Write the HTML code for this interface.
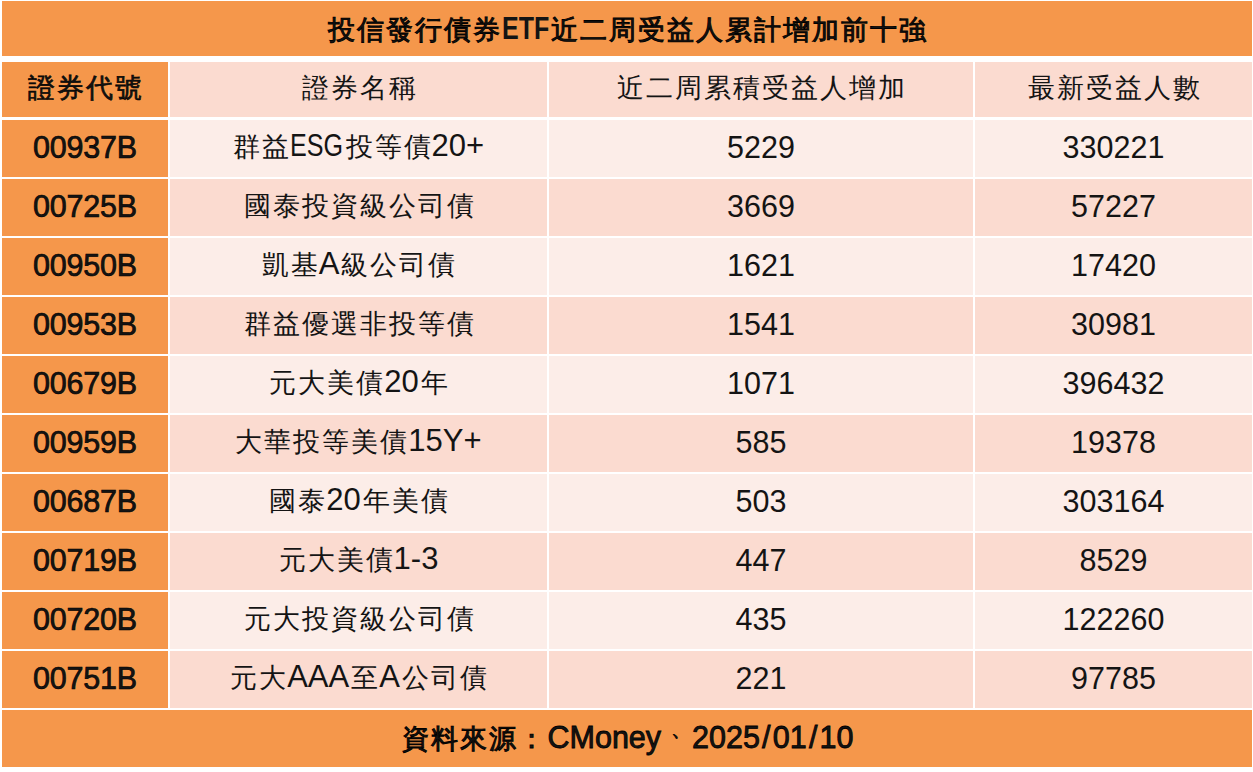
<!DOCTYPE html>
<html><head><meta charset="utf-8"><style>
html,body{margin:0;padding:0;background:#fff;width:1253px;height:772px;overflow:hidden;position:relative}
.c{position:absolute;overflow:hidden}
.t{position:absolute;left:0;right:0;text-align:center;font-family:"Liberation Sans",sans-serif;font-size:26.5px;letter-spacing:2px;text-indent:2px;color:#141414;white-space:nowrap}
.b{font-weight:normal;-webkit-text-stroke:0.6px #000}
.ti{font-size:26.5px;letter-spacing:2px;text-indent:2px;-webkit-text-stroke:0.9px #000}
.ft{-webkit-text-stroke:0.9px #000}
.LF{font-size:30.5px;letter-spacing:0;line-height:0;-webkit-text-stroke:0.8px #000}
.id{font-size:30.5px;font-weight:normal;-webkit-text-stroke:0.65px #000;letter-spacing:-0.2px;text-indent:0;transform:scaleY(1.03)}
.num{font-size:30.5px;letter-spacing:0;text-indent:0}
.L{font-size:31px;letter-spacing:0;margin:0 2px 0 -1px;line-height:0}
.LB{font-size:30.5px;letter-spacing:0;line-height:0;font-weight:bold;-webkit-text-stroke:0}
.sx{display:inline-block;transform-origin:50% 50%}
.sl{margin:0 2.2px}
.dn{display:inline-block;transform:translate(5px,-10px) scale(0.8)}
</style></head><body>
<div class="c" style="left:2px;top:1px;width:1250px;height:55px;background:#F5974B"><div class="t b ti" style="top:2px;line-height:55px">投信發行債券<span class="LB sx" id="sx0" style="transform:scaleX(0.82);margin:0 -3.36px 0 -7.36px">ETF</span>近二周受益人累計增加前十強</div></div>
<div class="c" style="left:2px;top:62px;width:166px;height:55px;background:#F5974B"><div class="t b" style="top:-1px;line-height:55px">證券代號</div></div>
<div class="c" style="left:170px;top:62px;width:377px;height:55px;background:#FBDBD0"><div class="t " style="top:-1px;line-height:55px">證券名稱</div></div>
<div class="c" style="left:549px;top:62px;width:424px;height:55px;background:#FBDBD0"><div class="t " style="top:-1px;line-height:55px">近二周累積受益人增加</div></div>
<div class="c" style="left:975px;top:62px;width:277px;height:55px;background:#FBDBD0"><div class="t " style="top:-1px;line-height:55px">最新受益人數</div></div>
<div class="c" style="left:2px;top:120px;width:166px;height:57px;background:#F5974B"><div class="t b id" style="top:-1px;line-height:57px">00937B</div></div>
<div class="c" style="left:170px;top:120px;width:377px;height:57px;background:#FCEDE8"><div class="t " style="top:-1px;line-height:57px">群益<span class="L sx" id="sx1" style="transform:scaleX(0.81);margin:0 -4.41px 0 -8.41px">ESG</span>投等債<span class="L">20+</span></div></div>
<div class="c" style="left:549px;top:120px;width:424px;height:57px;background:#FCEDE8"><div class="t num" style="top:-1px;line-height:57px">5229</div></div>
<div class="c" style="left:975px;top:120px;width:277px;height:57px;background:#FCEDE8"><div class="t num" style="top:-1px;line-height:57px">330221</div></div>
<div class="c" style="left:2px;top:179px;width:166px;height:57px;background:#F5974B"><div class="t b id" style="top:-1px;line-height:57px">00725B</div></div>
<div class="c" style="left:170px;top:179px;width:377px;height:57px;background:#FBDBD0"><div class="t " style="top:-1px;line-height:57px">國泰投資級公司債</div></div>
<div class="c" style="left:549px;top:179px;width:424px;height:57px;background:#FBDBD0"><div class="t num" style="top:-1px;line-height:57px">3669</div></div>
<div class="c" style="left:975px;top:179px;width:277px;height:57px;background:#FBDBD0"><div class="t num" style="top:-1px;line-height:57px">57227</div></div>
<div class="c" style="left:2px;top:238px;width:166px;height:57px;background:#F5974B"><div class="t b id" style="top:-1px;line-height:57px">00950B</div></div>
<div class="c" style="left:170px;top:238px;width:377px;height:57px;background:#FCEDE8"><div class="t " style="top:-1px;line-height:57px">凱基<span class="L">A</span>級公司債</div></div>
<div class="c" style="left:549px;top:238px;width:424px;height:57px;background:#FCEDE8"><div class="t num" style="top:-1px;line-height:57px">1621</div></div>
<div class="c" style="left:975px;top:238px;width:277px;height:57px;background:#FCEDE8"><div class="t num" style="top:-1px;line-height:57px">17420</div></div>
<div class="c" style="left:2px;top:297px;width:166px;height:57px;background:#F5974B"><div class="t b id" style="top:-1px;line-height:57px">00953B</div></div>
<div class="c" style="left:170px;top:297px;width:377px;height:57px;background:#FBDBD0"><div class="t " style="top:-1px;line-height:57px">群益優選非投等債</div></div>
<div class="c" style="left:549px;top:297px;width:424px;height:57px;background:#FBDBD0"><div class="t num" style="top:-1px;line-height:57px">1541</div></div>
<div class="c" style="left:975px;top:297px;width:277px;height:57px;background:#FBDBD0"><div class="t num" style="top:-1px;line-height:57px">30981</div></div>
<div class="c" style="left:2px;top:356px;width:166px;height:57px;background:#F5974B"><div class="t b id" style="top:-1px;line-height:57px">00679B</div></div>
<div class="c" style="left:170px;top:356px;width:377px;height:57px;background:#FCEDE8"><div class="t " style="top:-1px;line-height:57px">元大美債<span class="L">20</span>年</div></div>
<div class="c" style="left:549px;top:356px;width:424px;height:57px;background:#FCEDE8"><div class="t num" style="top:-1px;line-height:57px">1071</div></div>
<div class="c" style="left:975px;top:356px;width:277px;height:57px;background:#FCEDE8"><div class="t num" style="top:-1px;line-height:57px">396432</div></div>
<div class="c" style="left:2px;top:415px;width:166px;height:57px;background:#F5974B"><div class="t b id" style="top:-1px;line-height:57px">00959B</div></div>
<div class="c" style="left:170px;top:415px;width:377px;height:57px;background:#FBDBD0"><div class="t " style="top:-1px;line-height:57px">大華投等美債<span class="L">15Y+</span></div></div>
<div class="c" style="left:549px;top:415px;width:424px;height:57px;background:#FBDBD0"><div class="t num" style="top:-1px;line-height:57px">585</div></div>
<div class="c" style="left:975px;top:415px;width:277px;height:57px;background:#FBDBD0"><div class="t num" style="top:-1px;line-height:57px">19378</div></div>
<div class="c" style="left:2px;top:474px;width:166px;height:57px;background:#F5974B"><div class="t b id" style="top:-1px;line-height:57px">00687B</div></div>
<div class="c" style="left:170px;top:474px;width:377px;height:57px;background:#FCEDE8"><div class="t " style="top:-1px;line-height:57px">國泰<span class="L">20</span>年美債</div></div>
<div class="c" style="left:549px;top:474px;width:424px;height:57px;background:#FCEDE8"><div class="t num" style="top:-1px;line-height:57px">503</div></div>
<div class="c" style="left:975px;top:474px;width:277px;height:57px;background:#FCEDE8"><div class="t num" style="top:-1px;line-height:57px">303164</div></div>
<div class="c" style="left:2px;top:533px;width:166px;height:57px;background:#F5974B"><div class="t b id" style="top:-1px;line-height:57px">00719B</div></div>
<div class="c" style="left:170px;top:533px;width:377px;height:57px;background:#FBDBD0"><div class="t " style="top:-1px;line-height:57px">元大美債<span class="L">1-3</span></div></div>
<div class="c" style="left:549px;top:533px;width:424px;height:57px;background:#FBDBD0"><div class="t num" style="top:-1px;line-height:57px">447</div></div>
<div class="c" style="left:975px;top:533px;width:277px;height:57px;background:#FBDBD0"><div class="t num" style="top:-1px;line-height:57px">8529</div></div>
<div class="c" style="left:2px;top:592px;width:166px;height:57px;background:#F5974B"><div class="t b id" style="top:-1px;line-height:57px">00720B</div></div>
<div class="c" style="left:170px;top:592px;width:377px;height:57px;background:#FCEDE8"><div class="t " style="top:-1px;line-height:57px">元大投資級公司債</div></div>
<div class="c" style="left:549px;top:592px;width:424px;height:57px;background:#FCEDE8"><div class="t num" style="top:-1px;line-height:57px">435</div></div>
<div class="c" style="left:975px;top:592px;width:277px;height:57px;background:#FCEDE8"><div class="t num" style="top:-1px;line-height:57px">122260</div></div>
<div class="c" style="left:2px;top:651px;width:166px;height:57px;background:#F5974B"><div class="t b id" style="top:-1px;line-height:57px">00751B</div></div>
<div class="c" style="left:170px;top:651px;width:377px;height:57px;background:#FBDBD0"><div class="t " style="top:-1px;line-height:57px">元大<span class="L">AAA</span>至<span class="L">A</span>公司債</div></div>
<div class="c" style="left:549px;top:651px;width:424px;height:57px;background:#FBDBD0"><div class="t num" style="top:-1px;line-height:57px">221</div></div>
<div class="c" style="left:975px;top:651px;width:277px;height:57px;background:#FBDBD0"><div class="t num" style="top:-1px;line-height:57px">97785</div></div>
<div class="c" style="left:2px;top:710px;width:1250px;height:57px;background:#F5974B"><div class="t b ft" style="top:1px;line-height:57px">資料來源：<span class="LF">CMoney</span><span class="dn">、</span><span class="LF">2025<span class="sl">/</span>01<span class="sl">/</span>10</span></div></div>
</body></html>
